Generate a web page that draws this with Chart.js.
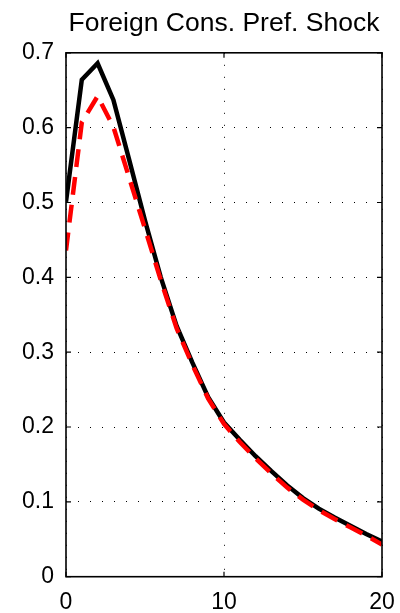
<!DOCTYPE html>
<html>
<head>
<meta charset="utf-8">
<script src="https://cdn.jsdelivr.net/npm/chart.js@4/dist/chart.umd.min.js"></script>
<style>
  html, body { margin: 0; padding: 0; background: #fff; }
  #wrap { width: 400px; height: 613px; position: relative; }
</style>
</head>
<body>
<div id="wrap"><canvas id="chart"></canvas></div>
<script>
const periods = [0, 1, 2, 3, 4, 5, 6, 7, 8, 9, 10, 11, 12, 13, 14, 15, 16, 17, 18, 19, 20];
const solidSeries = [0.501, 0.664, 0.686, 0.637, 0.557, 0.476, 0.400, 0.335, 0.286, 0.240, 0.206,
    0.183, 0.161, 0.141, 0.122, 0.105, 0.091, 0.079, 0.068, 0.057, 0.047];
const dashedSeries = [0.436, 0.607, 0.642, 0.601, 0.533, 0.465, 0.396, 0.332, 0.283, 0.238, 0.204,
    0.180, 0.158, 0.138, 0.119, 0.103, 0.089, 0.077, 0.066, 0.055, 0.043];
const xTicks = [0, 10, 20];
const xTickLabels = ['0', '10', '20'];
const yTicks = [0, 0.1, 0.2, 0.3, 0.4, 0.5, 0.6, 0.7];
const yTickLabels = ['0', '0.1', '0.2', '0.3', '0.4', '0.5', '0.6', '0.7'];
const titleText = 'Foreign Cons. Pref. Shock';

const FONT = "'Liberation Sans', Arial, Helvetica, sans-serif";

const toPoints = (ys) => periods.map((x, i) => ({ x, y: ys[i] }));

// box around the axes plus MATLAB-style inward ticks on all four sides
const axesBox = {
    id: 'axesBox',
    afterDraw(chart) {
        const { ctx, chartArea: a, scales } = chart;
        const len = 5;
        ctx.save();
        ctx.strokeStyle = '#000';
        ctx.lineWidth = 1.6;
        ctx.setLineDash([]);
        ctx.strokeRect(a.left, a.top, a.right - a.left, a.bottom - a.top);
        ctx.lineWidth = 1.2;
        ctx.beginPath();
        yTicks.forEach(v => {
            const y = scales.y.getPixelForValue(v);
            ctx.moveTo(a.left, y); ctx.lineTo(a.left + len, y);
            ctx.moveTo(a.right, y); ctx.lineTo(a.right - len, y);
        });
        xTicks.forEach(v => {
            const x = scales.x.getPixelForValue(v);
            ctx.moveTo(x, a.bottom); ctx.lineTo(x, a.bottom - len);
            ctx.moveTo(x, a.top); ctx.lineTo(x, a.top + len);
        });
        ctx.stroke();
        ctx.restore();
    }
};

new Chart(document.getElementById('chart'), {
    type: 'line',
    data: {
        datasets: [
            {
                data: toPoints(solidSeries),
                borderColor: '#000',
                borderWidth: 4.5,
                pointRadius: 0,
                tension: 0,
                fill: false,
                order: 2
            },
            {
                data: toPoints(dashedSeries),
                borderColor: '#ff0000',
                borderWidth: 4.5,
                borderDash: [18, 10],
                borderCapStyle: 'butt',
                pointRadius: 0,
                tension: 0,
                fill: false,
                order: 1
            }
        ]
    },
    options: {
        responsive: true,
        maintainAspectRatio: false,
        animation: false,
        layout: { padding: { left: 0, right: 18, top: 0, bottom: 0 } },
        plugins: {
            legend: { display: false },
            tooltip: { enabled: false },
            title: {
                display: true,
                text: titleText,
                fullSize: false,
                color: '#000',
                font: { family: FONT, size: 26.5, weight: 'normal' },
                padding: { top: 8, bottom: 13 }
            }
        },
        scales: {
            x: {
                type: 'linear',
                min: 0,
                max: 20,
                afterBuildTicks: axis => { axis.ticks = xTicks.map(v => ({ value: v })); },
                afterFit: axis => {
                    axis.height = 36.3;
                    axis.paddingLeft = 0;
                    axis.paddingRight = 0;
                },
                ticks: {
                    color: '#000',
                    padding: 12,
                    maxRotation: 0,
                    font: { family: FONT, size: 23 },
                    callback: (v, i) => xTickLabels[i]
                },
                grid: { color: '#000', lineWidth: 1, drawTicks: false },
                border: { display: false, dash: [1, 11] }
            },
            y: {
                type: 'linear',
                min: 0,
                max: 0.7,
                afterBuildTicks: axis => { axis.ticks = yTicks.map(v => ({ value: v })); },
                afterFit: axis => {
                    axis.width = 66;
                    axis.paddingTop = 0;
                    axis.paddingBottom = 0;
                },
                ticks: {
                    color: '#000',
                    padding: 12,
                    font: { family: FONT, size: 23 },
                    callback: (v, i) => yTickLabels[i]
                },
                grid: { color: '#000', lineWidth: 1, drawTicks: false },
                border: { display: false, dash: [1, 11] }
            }
        }
    },
    plugins: [axesBox]
});
</script>
</body>
</html>
